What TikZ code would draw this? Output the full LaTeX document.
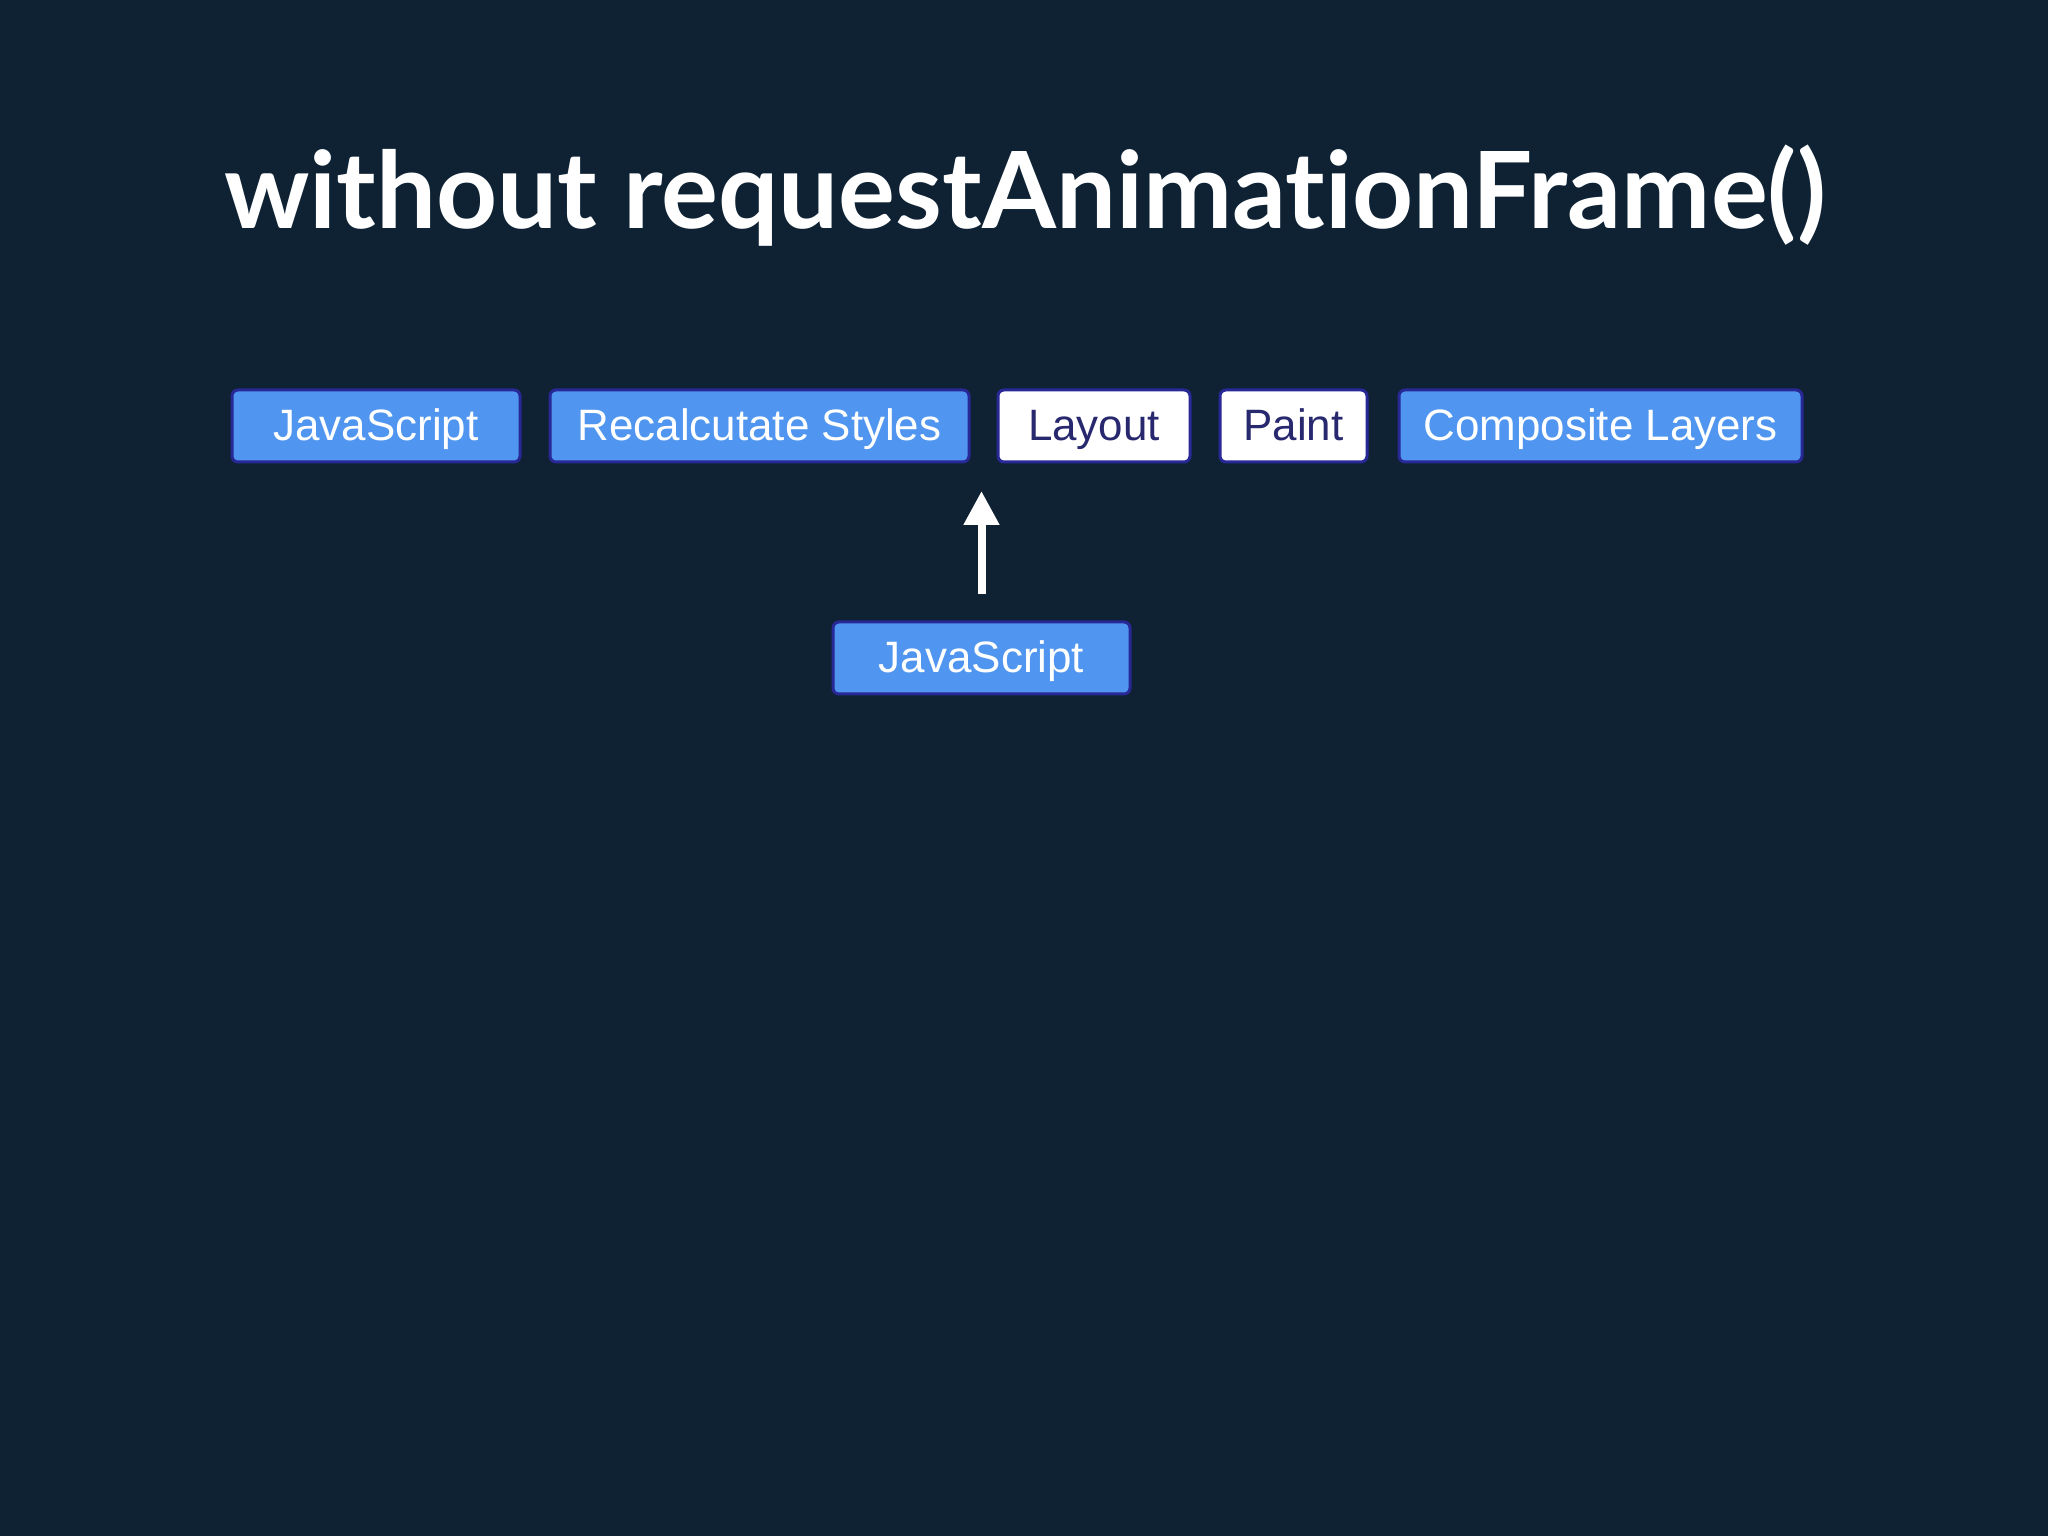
\documentclass[tikz,border=0pt]{standalone}
\usepackage{fontspec}
\setmainfont{Liberation Sans}
\newfontfamily\titlefont[Ligatures=NoCommon]{Lato}
\usetikzlibrary{arrows.meta}
\definecolor{bgnavy}{RGB}{14,34,52}
\definecolor{stepblue}{RGB}{80,150,240}
\definecolor{edgeblue}{RGB}{40,40,150}
\definecolor{inknavy}{RGB}{40,40,110}
\begin{document}
\begin{tikzpicture}[
	box/.style={draw=edgeblue, line width=.03cm, rounded corners=.06cm, inner sep=0pt,
		minimum height=.72cm, text height=.95em, text depth=.15em, font=\fontsize{12.5}{15}\selectfont},
	bluebox/.style={box, fill=stepblue, text=white},
	whitebox/.style={box, fill=white, text=inknavy}]
	\fill[bgnavy] (0,0) rectangle (20.48,-15.36);
	\useasboundingbox (0,0) rectangle (20.48,-15.36);
	
	\node (T) at (10.25,-1.96) {\titlefont\bfseries\color{white}\fontsize{30.3}{36}\selectfont without requestAnimationFrame()};
	
	\node[bluebox, minimum width=2.88cm] (J) at (3.76,-4.26) {JavaScript};
	\node[bluebox, minimum width=4.19cm] (R) at (7.595,-4.26) {Recalcutate Styles};
	\node[whitebox, minimum width=1.92cm] (L) at (10.94,-4.26) {Layout};
	\node[whitebox, minimum width=1.47cm] (P) at (12.935,-4.26) {Paint};
	\node[bluebox, minimum width=4.03cm] (C) at (16.005,-4.26) {Composite Layers};
	
		\node[bluebox, minimum width=2.97cm] (J') at (9.815,-6.58) {JavaScript};
		\coordinate (tip) at (9.815,-4.91);
		\draw[white, line width=.08cm, -{Triangle[width=.34cm,length=.34cm]}, shorten <=.26cm] (J'.north) -- (tip);
\end{tikzpicture}
\end{document}
